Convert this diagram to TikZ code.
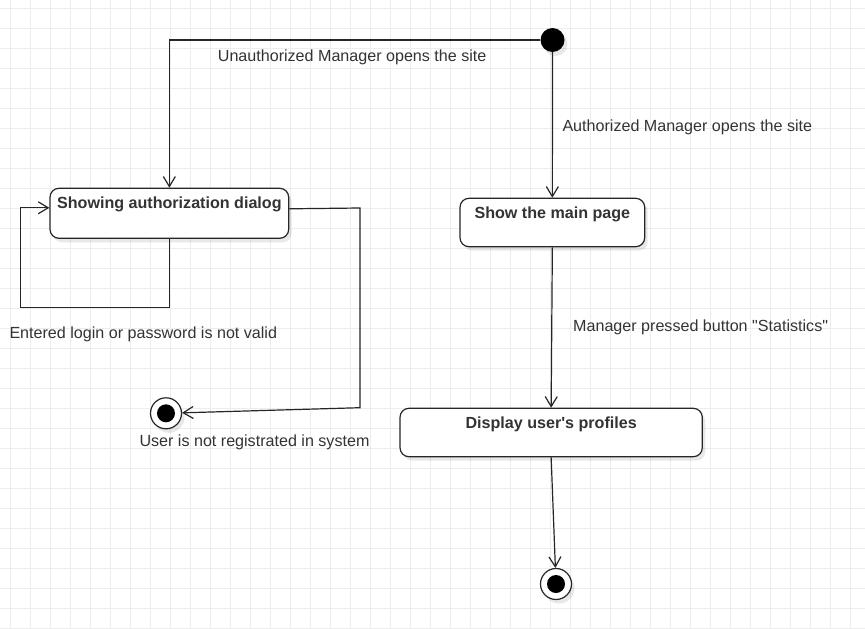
\documentclass[tikz,border=0pt]{standalone}
\usepackage{fontspec}
\setmainfont{Liberation Sans}
\newfontfamily\lsans{Liberation Sans}
\usetikzlibrary{arrows.meta,shadows}
\definecolor{gridc}{HTML}{EDEDED}
\definecolor{linec}{HTML}{262626}
\definecolor{textc}{HTML}{333333}
\tikzset{
  shd/.style={drop shadow={shadow xshift=3pt,shadow yshift=-4pt,fill=black,opacity=0.09}},
  statebox/.style={draw=linec, line width=1.2pt, fill=white, rounded corners=9pt,
    inner xsep=0pt, inner ysep=0pt, text height=20pt, font=\lsans\fontsize{16.1}{19}\selectfont\bfseries,
    text=textc, shd},
  initst/.style={circle, fill=black, minimum size=24pt, inner sep=0pt, shd},
  finalst/.style={circle, draw=linec, line width=1.2pt, fill=white, minimum size=31pt, inner sep=0pt, shd,
    path picture={\fill[black] (path picture bounding box.center) circle (9pt);}},
  arr/.style={draw=linec, line width=1.2pt, -{Straight Barb[length=10pt,width=12pt]}},
  lbl/.style={anchor=base west, inner sep=0pt, font=\lsans\fontsize{16.1}{19}\selectfont, text=textc},
}
\begin{document}
\begin{tikzpicture}[x=1pt,y=-1pt]
\useasboundingbox (0,0) rectangle (865,629);
\fill[white] (0,0) rectangle (865,629);
% grid
\foreach \gx in {0,...,42} {\draw[gridc, line width=1pt] (10.7+20*\gx,0) -- (10.7+20*\gx,629);}
\foreach \gy in {0,...,31} {\draw[gridc, line width=1pt] (0,8.3+20*\gy) -- (865,8.3+20*\gy);}

% states
\node[initst] (init) at (552.5,40) {};
\node[statebox, minimum width=238.7pt, text depth=30pt] (auth) at (169.35,213.3) {Showing authorization dialog};
\node[statebox, minimum width=184.7pt, text depth=28.4pt] (mainp) at (552.35,222.5) {Show the main page};
\node[statebox, minimum width=302.3pt, text depth=28.4pt] (prof) at (551.15,432.5) {Display user's profiles};
\node[finalst] (fin1) at (166,413.3) {};
\node[finalst] (fin2) at (556,584) {};

% helper coordinates
\coordinate (loopa) at (20.3,307.3);
\coordinate (r1) at (360,208);
\coordinate (r2) at (360,407.7);

% connectors
\draw[arr] (init.west) -| (auth.north);
\draw[arr] (init.south) -- (mainp.north);
\draw[arr] (mainp.south) -- (prof.north);
\draw[arr] (prof.south) -- (fin2);
\draw[arr] (auth.south) |- (loopa) |- ([yshift=5.5pt]auth.west);
\draw[arr] ([yshift=4.5pt]auth.east) -- (r1) -- (r2) -- (fin1);

% labels
\node[lbl] (l1) at (217.7,61.5) {Unauthorized Manager opens the site};
\node[lbl] (l2) at (562.3,131) {Authorized Manager opens the site};
\node[lbl] (l3) at (573,331) {Manager pressed button "Statistics"};
\node[lbl] (l4) at (9.3,338.5) {Entered login or password is not valid};
\node[lbl] (l5) at (139.3,446.8) {User is not registrated in system};
\end{tikzpicture}
\end{document}
